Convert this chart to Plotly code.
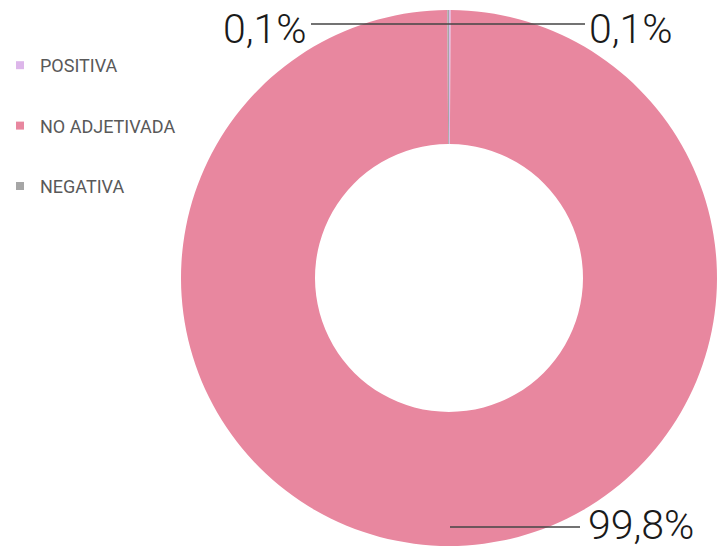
import plotly.graph_objects as go

labels = ["POSITIVA", "NO ADJETIVADA", "NEGATIVA"]
values = [0.1, 99.8, 0.1]
colors = ["#DDB6EA", "#E8879F", "#A6A6A6"]

W, H = 718, 546
FONT = "Roboto, Liberation Sans, sans-serif"

def fmt(v):
    return f"{v:.1f}".replace(".", ",") + "%"

fig = go.Figure()
fig.add_trace(go.Pie(
    labels=labels, values=values, hole=0.5, sort=False, direction="clockwise",
    rotation=0, marker=dict(colors=colors, line=dict(width=0)),
    textinfo="none", showlegend=False,
    domain=dict(x=[181 / W, 717 / W], y=[0, 1 - 10 / H]),
))

# legend entries (one group each so the gap matches the reference)
for lab, col in zip(labels, colors):
    fig.add_trace(go.Scatter(
        x=[None], y=[None], mode="markers", name=lab, legendgroup=lab,
        marker=dict(symbol="square", size=8, color=col),
    ))

# value labels with horizontal leader lines
px = lambda x: x / W
py = lambda y: 1 - y / H
label_specs = [
    # (index, x_line_start, x_line_end, y_line, text_x, anchor, text_y)
    (2, 449, 311, 24, 309, "right", 29),
    (0, 449, 585, 24, 587, "left", 29),
    (1, 450, 580, 527, 586, "left", 525),
]
for idx, x0, x1, yl, tx, anc, ty in label_specs:
    fig.add_shape(type="line", xref="paper", yref="paper",
                  x0=px(x0), x1=px(x1), y0=py(yl), y1=py(yl),
                  line=dict(color="#444444", width=1.3))
    fig.add_annotation(xref="paper", yref="paper", x=px(tx), y=py(ty),
                       xanchor=anc, yanchor="middle", showarrow=False,
                       height=40, valign="middle",
                       text=fmt(values[idx]),
                       font=dict(family=FONT, size=41, color="#1a1a1a", weight=300))

fig.update_layout(
    width=W, height=H, margin=dict(l=0, r=0, t=0, b=0, autoexpand=False),
    paper_bgcolor="white", plot_bgcolor="white",
    xaxis=dict(visible=False), yaxis=dict(visible=False),
    showlegend=True,
    legend=dict(x=0, y=1 - 47 / H, xanchor="left", yanchor="top",
                tracegroupgap=34, font=dict(family=FONT, size=18, color="#595959"),
                bgcolor="rgba(0,0,0,0)"),
)

fig.write_html("out.html", config={"displayModeBar": False},
               post_script="document.body.style.margin='0';")
